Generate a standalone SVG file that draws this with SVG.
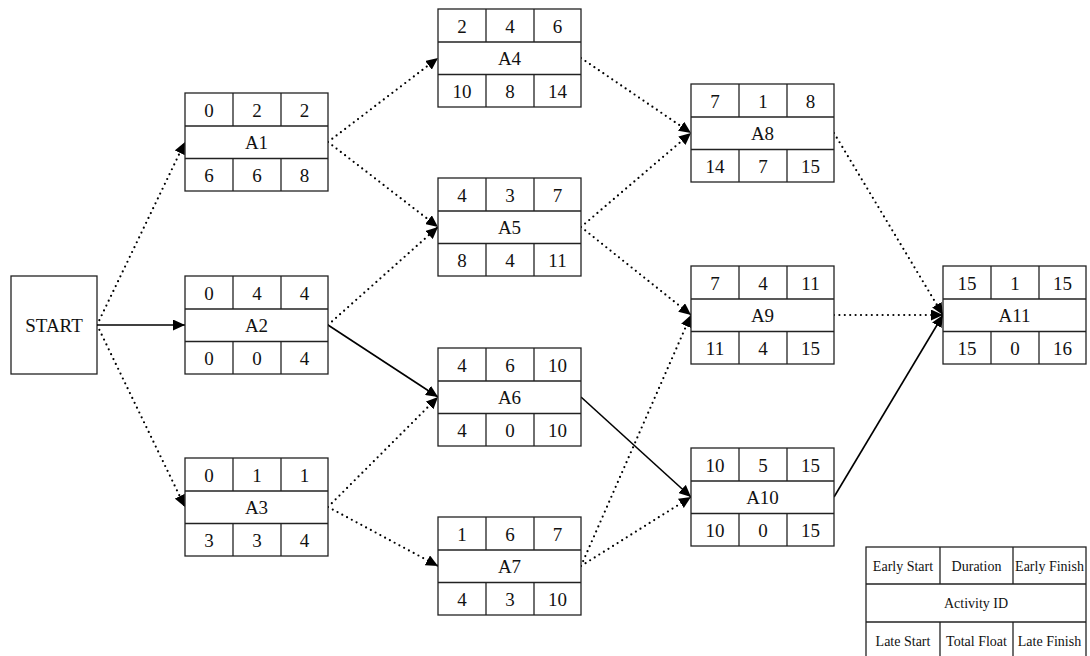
<svg xmlns="http://www.w3.org/2000/svg" width="1090" height="656" viewBox="0 0 1090 656">
<style>
.box{fill:#fff;stroke:#222;stroke-width:1.3}
.div{stroke:#222;stroke-width:1.3}
.t{font-family:"Liberation Serif","Times New Roman",serif;font-size:19px;fill:#111;text-anchor:middle}
.lg{font-family:"Liberation Serif","Times New Roman",serif;font-size:14px;fill:#111;text-anchor:middle}
.solid{stroke:#000;stroke-width:1.6;fill:none}
.dot{stroke:#000;stroke-width:2.2;fill:none;stroke-dasharray:0 5.4;stroke-linecap:round}
</style>
<defs>
<marker id="ah" markerUnits="userSpaceOnUse" markerWidth="13" markerHeight="11" refX="12" refY="5.5" orient="auto">
<path d="M0,0 L12,5.5 L0,11 z" fill="#000" stroke="none"/>
</marker>
<g id="grid">
<rect class="box" x="0" y="0" width="143" height="98"/>
<line class="div" x1="0" y1="33" x2="143" y2="33"/>
<line class="div" x1="0" y1="65.5" x2="143" y2="65.5"/>
<line class="div" x1="48" y1="0" x2="48" y2="33"/>
<line class="div" x1="96" y1="0" x2="96" y2="33"/>
<line class="div" x1="48" y1="65.5" x2="48" y2="98"/>
<line class="div" x1="96" y1="65.5" x2="96" y2="98"/>
</g>
</defs>

<g id="connectors">
<line class="solid" x1="97" y1="325" x2="185" y2="325" marker-end="url(#ah)"/>
<line class="dot" x1="97" y1="325" x2="185" y2="142" marker-end="url(#ah)"/>
<line class="dot" x1="97" y1="325" x2="185" y2="507" marker-end="url(#ah)"/>
<line class="dot" x1="328" y1="142" x2="438" y2="58" marker-end="url(#ah)"/>
<line class="dot" x1="328" y1="142" x2="438" y2="227" marker-end="url(#ah)"/>
<line class="dot" x1="328" y1="325" x2="438" y2="227" marker-end="url(#ah)"/>
<line class="solid" x1="328" y1="325" x2="438" y2="397" marker-end="url(#ah)"/>
<line class="dot" x1="328" y1="507" x2="438" y2="397" marker-end="url(#ah)"/>
<line class="dot" x1="328" y1="507" x2="438" y2="566" marker-end="url(#ah)"/>
<line class="dot" x1="581" y1="58" x2="691" y2="133" marker-end="url(#ah)"/>
<line class="dot" x1="581" y1="227" x2="691" y2="133" marker-end="url(#ah)"/>
<line class="dot" x1="581" y1="227" x2="691" y2="315" marker-end="url(#ah)"/>
<line class="solid" x1="581" y1="397" x2="691" y2="497" marker-end="url(#ah)"/>
<line class="dot" x1="581" y1="566" x2="691" y2="315" marker-end="url(#ah)"/>
<line class="dot" x1="581" y1="566" x2="691" y2="497" marker-end="url(#ah)"/>
<line class="dot" x1="834" y1="133" x2="943" y2="315" marker-end="url(#ah)"/>
<line class="dot" x1="834" y1="315" x2="943" y2="315" marker-end="url(#ah)"/>
<line class="solid" x1="834" y1="497" x2="943" y2="315" marker-end="url(#ah)"/>
</g>

<g id="START">
<rect class="box" x="11" y="276" width="86" height="98"/>
<text class="t" x="54" y="331.5">START</text>
</g>

<g id="A1" transform="translate(185,93)">
<use href="#grid"/>
<text class="t" x="24" y="23.5">0</text><text class="t" x="72" y="23.5">2</text><text class="t" x="119.5" y="23.5">2</text>
<text class="t" x="71.5" y="56">A1</text>
<text class="t" x="24" y="88.5">6</text><text class="t" x="72" y="88.5">6</text><text class="t" x="119.5" y="88.5">8</text>
</g>
<g id="A2" transform="translate(185,276)">
<use href="#grid"/>
<text class="t" x="24" y="23.5">0</text><text class="t" x="72" y="23.5">4</text><text class="t" x="119.5" y="23.5">4</text>
<text class="t" x="71.5" y="56">A2</text>
<text class="t" x="24" y="88.5">0</text><text class="t" x="72" y="88.5">0</text><text class="t" x="119.5" y="88.5">4</text>
</g>
<g id="A3" transform="translate(185,458)">
<use href="#grid"/>
<text class="t" x="24" y="23.5">0</text><text class="t" x="72" y="23.5">1</text><text class="t" x="119.5" y="23.5">1</text>
<text class="t" x="71.5" y="56">A3</text>
<text class="t" x="24" y="88.5">3</text><text class="t" x="72" y="88.5">3</text><text class="t" x="119.5" y="88.5">4</text>
</g>
<g id="A4" transform="translate(438,9)">
<use href="#grid"/>
<text class="t" x="24" y="23.5">2</text><text class="t" x="72" y="23.5">4</text><text class="t" x="119.5" y="23.5">6</text>
<text class="t" x="71.5" y="56">A4</text>
<text class="t" x="24" y="88.5">10</text><text class="t" x="72" y="88.5">8</text><text class="t" x="119.5" y="88.5">14</text>
</g>
<g id="A5" transform="translate(438,178)">
<use href="#grid"/>
<text class="t" x="24" y="23.5">4</text><text class="t" x="72" y="23.5">3</text><text class="t" x="119.5" y="23.5">7</text>
<text class="t" x="71.5" y="56">A5</text>
<text class="t" x="24" y="88.5">8</text><text class="t" x="72" y="88.5">4</text><text class="t" x="119.5" y="88.5">11</text>
</g>
<g id="A6" transform="translate(438,348)">
<use href="#grid"/>
<text class="t" x="24" y="23.5">4</text><text class="t" x="72" y="23.5">6</text><text class="t" x="119.5" y="23.5">10</text>
<text class="t" x="71.5" y="56">A6</text>
<text class="t" x="24" y="88.5">4</text><text class="t" x="72" y="88.5">0</text><text class="t" x="119.5" y="88.5">10</text>
</g>
<g id="A7" transform="translate(438,517)">
<use href="#grid"/>
<text class="t" x="24" y="23.5">1</text><text class="t" x="72" y="23.5">6</text><text class="t" x="119.5" y="23.5">7</text>
<text class="t" x="71.5" y="56">A7</text>
<text class="t" x="24" y="88.5">4</text><text class="t" x="72" y="88.5">3</text><text class="t" x="119.5" y="88.5">10</text>
</g>
<g id="A8" transform="translate(691,84)">
<use href="#grid"/>
<text class="t" x="24" y="23.5">7</text><text class="t" x="72" y="23.5">1</text><text class="t" x="119.5" y="23.5">8</text>
<text class="t" x="71.5" y="56">A8</text>
<text class="t" x="24" y="88.5">14</text><text class="t" x="72" y="88.5">7</text><text class="t" x="119.5" y="88.5">15</text>
</g>
<g id="A9" transform="translate(691,266)">
<use href="#grid"/>
<text class="t" x="24" y="23.5">7</text><text class="t" x="72" y="23.5">4</text><text class="t" x="119.5" y="23.5">11</text>
<text class="t" x="71.5" y="56">A9</text>
<text class="t" x="24" y="88.5">11</text><text class="t" x="72" y="88.5">4</text><text class="t" x="119.5" y="88.5">15</text>
</g>
<g id="A10" transform="translate(691,448)">
<use href="#grid"/>
<text class="t" x="24" y="23.5">10</text><text class="t" x="72" y="23.5">5</text><text class="t" x="119.5" y="23.5">15</text>
<text class="t" x="71.5" y="56">A10</text>
<text class="t" x="24" y="88.5">10</text><text class="t" x="72" y="88.5">0</text><text class="t" x="119.5" y="88.5">15</text>
</g>
<g id="A11" transform="translate(943,266)">
<use href="#grid"/>
<text class="t" x="24" y="23.5">15</text><text class="t" x="72" y="23.5">1</text><text class="t" x="119.5" y="23.5">15</text>
<text class="t" x="71.5" y="56">A11</text>
<text class="t" x="24" y="88.5">15</text><text class="t" x="72" y="88.5">0</text><text class="t" x="119.5" y="88.5">16</text>
</g>

<g id="legend" transform="translate(866,547)">
<rect class="box" x="0" y="0" width="220" height="112"/>
<line class="div" x1="0" y1="37" x2="220" y2="37"/>
<line class="div" x1="0" y1="75" x2="220" y2="75"/>
<line class="div" x1="74" y1="0" x2="74" y2="37"/>
<line class="div" x1="147" y1="0" x2="147" y2="37"/>
<line class="div" x1="74" y1="75" x2="74" y2="112"/>
<line class="div" x1="147" y1="75" x2="147" y2="112"/>
<text class="lg" x="37" y="23.5">Early Start</text>
<text class="lg" x="110.5" y="23.5">Duration</text>
<text class="lg" x="183.5" y="23.5">Early Finish</text>
<text class="lg" x="110" y="61">Activity ID</text>
<text class="lg" x="37" y="99">Late Start</text>
<text class="lg" x="110.5" y="99">Total Float</text>
<text class="lg" x="183.5" y="99">Late Finish</text>
</g>
</svg>
